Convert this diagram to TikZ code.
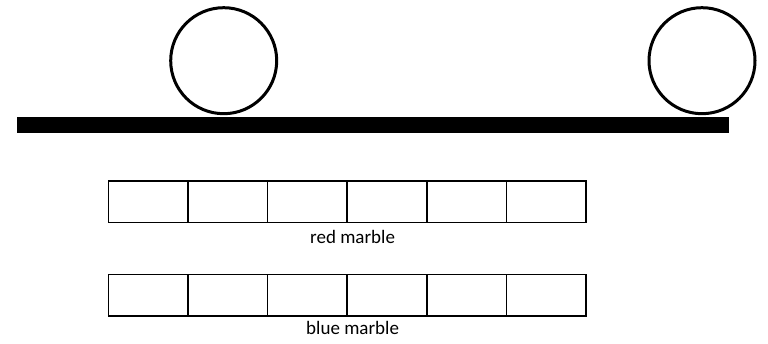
\documentclass[tikz,border=0pt]{standalone}
\usepackage{fontspec}
\setmainfont{Carlito}
\begin{document}
\begin{tikzpicture}[x=1pt,y=-1pt,
  marble/.style={circle,draw=black,line width=3pt,minimum size=106pt,inner sep=0pt},
  cell/.style={draw=black,line width=1.6pt,minimum width=79.6pt,minimum height=41.4pt,inner sep=0pt,outer sep=0pt},
  lbl/.style={font=\fontsize{19}{22}\selectfont,inner sep=0pt,anchor=base}]
\useasboundingbox (0,0) rectangle (768,344);
\fill[black] (17,117) rectangle (729,133);
\node[marble] (m1) at (223.7,60.7) {};
\node[marble] (m2) at (702,60.7) {};
\foreach \i in {0,...,5}{
  \node[cell] (r\i) at (148.1+79.6*\i,202) {};
  \node[cell] (b\i) at (148.1+79.6*\i,295.3) {};
}
\node[lbl] (rl) at (352.6,243.3) {red marble};
\node[lbl] (bl) at (352.6,335) {blue marble};
\end{tikzpicture}
\end{document}
